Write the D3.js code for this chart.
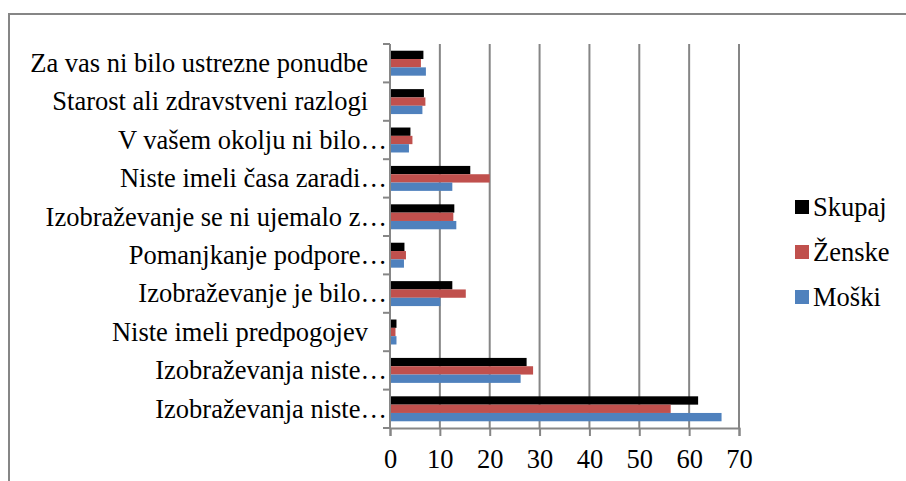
<!DOCTYPE html>
<html>
<head>
<meta charset="utf-8">
<script src="https://cdn.jsdelivr.net/npm/d3@7"></script>
<style>
  html, body { margin: 0; padding: 0; background: #fff; }
  svg { display: block; }
  text { font-family: "Liberation Serif", "Times New Roman", serif; fill: #000; }
</style>
</head>
<body>
<div id="chart"></div>
<script>
const categories = [
  "Za vas ni bilo ustrezne ponudbe",
  "Starost ali zdravstveni razlogi",
  "V vašem okolju ni bilo…",
  "Niste imeli časa zaradi…",
  "Izobraževanje se ni ujemalo z…",
  "Pomanjkanje podpore…",
  "Izobraževanje je bilo…",
  "Niste imeli predpogojev",
  "Izobraževanja niste…",
  "Izobraževanja niste…"
];
const seriesNames = ["Skupaj", "Ženske", "Moški"];
const seriesColors = ["#000000", "#C0504D", "#4F81BD"];
const skupaj = [6.7, 6.8, 4.1, 16.1, 12.9, 2.9, 12.5, 1.3, 27.4, 61.8];
const zenske = [6.2, 7.1, 4.5, 20.0, 12.7, 3.2, 15.2, 1.1, 28.7, 56.3];
const moski  = [7.2, 6.5, 3.8, 12.5, 13.3, 2.8, 10.1, 1.3, 26.2, 66.5];
const xTicks = [0, 10, 20, 30, 40, 50, 60, 70];

const width = 906, height = 481;
const plot = { left: 390, right: 739, top: 44, bottom: 428 };
const grey = "#868686";
const fontSize = 26.5;

const svg = d3.select("#chart").append("svg")
  .attr("width", width)
  .attr("height", height);

// outer chart frame (runs off the right and bottom edge)
svg.append("rect")
  .attr("x", 9).attr("y", 14)
  .attr("width", 1200).attr("height", 1200)
  .attr("fill", "none")
  .attr("stroke", grey)
  .attr("stroke-width", 2);

const x = d3.scaleLinear().domain([0, 70]).range([plot.left, plot.right]);
const y = d3.scaleBand()
  .domain(d3.range(categories.length))
  .range([plot.top, plot.bottom])
  .paddingInner(0.35)
  .paddingOuter(0.175);
const ySeries = d3.scaleBand()
  .domain(d3.range(seriesNames.length))
  .range([0, y.bandwidth()]);

// vertical gridlines
svg.append("g")
  .selectAll("line")
  .data(xTicks.filter(d => d > 0))
  .join("line")
  .attr("x1", d => x(d)).attr("x2", d => x(d))
  .attr("y1", plot.top).attr("y2", plot.bottom)
  .attr("stroke", grey)
  .attr("stroke-width", 2);

const rows = categories.map((c, i) => ({
  i,
  values: [skupaj[i], zenske[i], moski[i]]
}));

const group = svg.append("g")
  .selectAll("g")
  .data(rows)
  .join("g")
  .attr("transform", d => `translate(0,${y(d.i)})`);

group.selectAll("rect")
  .data(d => d.values.map((v, k) => ({ v, k })))
  .join("rect")
  .attr("x", x(0))
  .attr("y", d => ySeries(d.k))
  .attr("width", d => x(d.v) - x(0))
  .attr("height", ySeries.bandwidth())
  .attr("fill", d => seriesColors[d.k]);

// x axis
const xAxis = svg.append("g")
  .attr("transform", `translate(0,${plot.bottom})`)
  .call(d3.axisBottom(x).tickValues(xTicks).tickSize(8).tickPadding(13));
xAxis.select(".domain").attr("stroke", grey).attr("stroke-width", 2);
xAxis.selectAll(".tick line").attr("stroke", grey).attr("stroke-width", 2);
xAxis.selectAll(".tick text").attr("font-size", fontSize);

// y axis: tick marks on band boundaries
const step = y.step();
const yBounds = d3.range(categories.length + 1).map(i => plot.top + i * step);
svg.append("line")
  .attr("x1", plot.left).attr("x2", plot.left)
  .attr("y1", plot.top).attr("y2", plot.bottom)
  .attr("stroke", grey).attr("stroke-width", 2);
svg.append("g")
  .selectAll("line")
  .data(yBounds)
  .join("line")
  .attr("x1", plot.left - 7).attr("x2", plot.left)
  .attr("y1", d => d).attr("y2", d => d)
  .attr("stroke", grey).attr("stroke-width", 2);

// category labels
svg.append("g")
  .selectAll("text")
  .data(categories)
  .join("text")
  .attr("x", d => d.endsWith("…") ? plot.left - 3 : plot.left - 22)
  .attr("y", (d, i) => y(i) + y.bandwidth() / 2)
  .attr("dy", "0.33em")
  .attr("text-anchor", "end")
  .attr("font-size", fontSize)
  .text(d => d);

// legend
const legend = svg.append("g")
  .selectAll("g")
  .data(seriesNames)
  .join("g")
  .attr("transform", (d, i) => `translate(795,${207 + i * 45})`);
legend.append("rect")
  .attr("x", 0).attr("y", -7)
  .attr("width", 14).attr("height", 14)
  .attr("fill", (d, i) => seriesColors[i]);
legend.append("text")
  .attr("x", 18)
  .attr("dy", "0.33em")
  .attr("font-size", fontSize)
  .text(d => d);
</script>
</body>
</html>
